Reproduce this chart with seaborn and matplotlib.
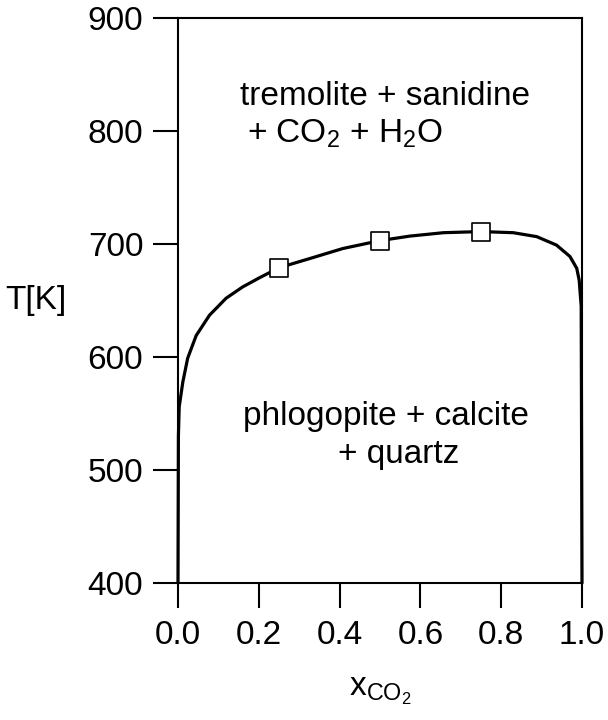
import matplotlib
matplotlib.use("Agg")
import matplotlib.pyplot as plt
import seaborn as sns
import pandas as pd

# Equilibrium curve of the reaction in T - x(CO2) space
x_curve = [0.0, 0.001, 0.003, 0.012, 0.024, 0.045, 0.078, 0.119, 0.160, 0.201,
           0.25, 0.325, 0.408, 0.5, 0.574, 0.657, 0.75, 0.83, 0.888, 0.937,
           0.970, 0.987, 0.993, 0.998, 1.0]
t_curve = [400, 530, 556, 578, 599, 619, 637, 652, 662, 670,
           679, 687, 696, 703, 707, 710, 711, 710, 706.5, 699,
           689, 678.5, 668, 645, 400]

# Experimental points
x_points = [0.25, 0.5, 0.75]
t_points = [679, 703, 711]

x_ticks = [0.0, 0.2, 0.4, 0.6, 0.8, 1.0]
x_ticklabels = ["0.0", "0.2", "0.4", "0.6", "0.8", "1.0"]
y_ticks = [400, 500, 600, 700, 800, 900]

sns.set_style("ticks")
plt.rcParams["font.family"] = ["Liberation Sans", "DejaVu Sans"]
plt.rcParams["mathtext.fontset"] = "custom"
plt.rcParams["mathtext.rm"] = "Liberation Sans"
plt.rcParams["mathtext.it"] = "Liberation Sans:italic"
plt.rcParams["text.color"] = "black"
plt.rcParams["axes.labelcolor"] = "black"

FS = 24

fig = plt.figure(figsize=(6.08, 7.2), dpi=100)
ax = fig.add_axes([178 / 608, 1 - 583 / 720, 404 / 608, 565 / 720])

curve = pd.DataFrame({"x": x_curve, "T": t_curve})
pts = pd.DataFrame({"x": x_points, "T": t_points})

sns.lineplot(data=curve, x="x", y="T", sort=False, estimator=None,
             color="black", linewidth=2.3, ax=ax, clip_on=False, zorder=3)
sns.scatterplot(data=pts, x="x", y="T", marker="s", s=170, color="white",
                edgecolor="black", linewidth=1.2, ax=ax, zorder=4, clip_on=False)

ax.set_xlim(0, 1)
ax.set_ylim(400, 900)
ax.set_xticks(x_ticks)
ax.set_xticklabels(x_ticklabels)
ax.set_yticks(y_ticks)

for side in ["left", "right", "top", "bottom"]:
    ax.spines[side].set_linewidth(1.5)
    ax.spines[side].set_color("black")

ax.tick_params(axis="both", direction="out", length=18, width=1.5,
               labelsize=FS, colors="black")
ax.tick_params(axis="x", pad=9)
ax.tick_params(axis="y", pad=7)

ax.set_ylabel("T[K]", fontsize=FS, rotation=0, ha="center", va="center")
ax.yaxis.set_label_coords(-0.351, 0.50)
ax.set_xlabel(r"$\mathregular{x_{CO_2}}$", fontsize=FS, va="center")
ax.xaxis.set_label_coords(0.5, -0.192)

ax.text(0.512, 823, "tremolite + sanidine", fontsize=FS, ha="center", va="baseline")
ax.text(0.171, 790, "+ CO$_2$ + H$_2$O", fontsize=FS, ha="left", va="baseline")
ax.text(0.515, 540, "phlogopite + calcite", fontsize=FS, ha="center", va="baseline")
ax.text(0.545, 506, "+ quartz", fontsize=FS, ha="center", va="baseline")

fig.savefig("out.png", dpi=100)
